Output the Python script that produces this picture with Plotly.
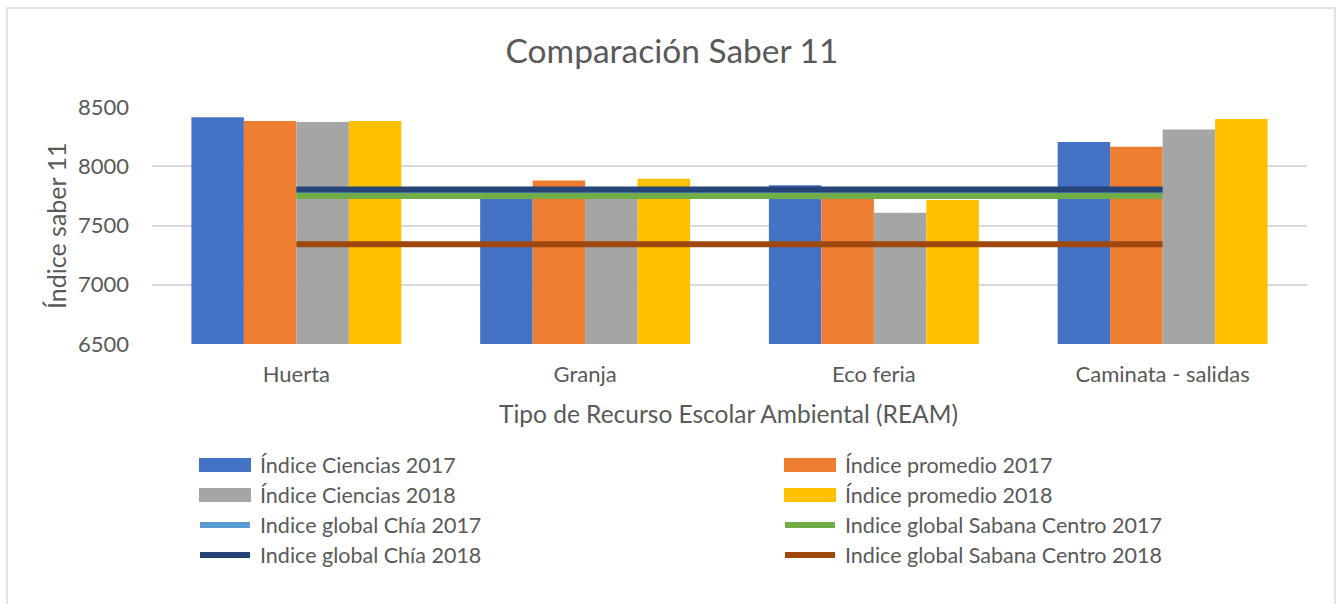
import plotly.graph_objects as go

categories = ["Huerta", "Granja", "Eco feria", "Caminata - salidas"]

bar_names = ["Índice Ciencias 2017", "Índice promedio 2017", "Índice Ciencias 2018", "Índice promedio 2018"]
ciencias_2017 = [8413, 7780, 7840, 8204]
promedio_2017 = [8382, 7880, 7770, 8165]
ciencias_2018 = [8373, 7780, 7607, 8311]
promedio_2018 = [8382, 7895, 7715, 8399]

line_names = ["Indice global Chía 2017", "Indice global Sabana Centro 2017",
              "Indice global Chía 2018", "Indice global Sabana Centro 2018"]
chia_2017 = [7800, 7800, 7800, 7800]
sabana_2017 = [7748, 7748, 7748, 7748]
chia_2018 = [7804, 7804, 7804, 7804]
sabana_2018 = [7342, 7342, 7342, 7342]

y_ticks = [6500, 7000, 7500, 8000, 8500]

bar_colors = ["#4472C4", "#ED7D31", "#A5A5A5", "#FFC000"]
line_colors = ["#5B9BD5", "#70AD47", "#264478", "#9E480E"]

W, H = 1344, 604
L, R, T, B = 152, 37, 107, 260
PW, PH = W - L - R, H - T - B

def px(x):
    return (x - L) / PW

def py(y):
    return (H - B - y) / PH

FONT = "Lato, 'Open Sans', sans-serif"
TXT = "#595959"

fig = go.Figure()
for name, vals, col in zip(bar_names, [ciencias_2017, promedio_2017, ciencias_2018, promedio_2018], bar_colors):
    fig.add_trace(go.Bar(x=categories, y=vals, name=name, marker=dict(color=col, line=dict(width=0)),
                         showlegend=False))
for name, vals, col in zip(line_names, [chia_2017, sabana_2017, chia_2018, sabana_2018], line_colors):
    fig.add_trace(go.Scatter(x=categories, y=vals, name=name, mode="lines",
                             line=dict(color=col, width=6), showlegend=False))

shapes = []
annotations = []
# outer border
shapes.append(dict(type="rect", xref="paper", yref="paper", x0=px(7), x1=px(1335), y0=py(8), y1=py(640),
                   line=dict(color="#D9D9D9", width=1.5), fillcolor="rgba(0,0,0,0)", layer="below"))

# custom legend
rows = [465, 495, 525, 555]
cols = [(199, 251, 258), (784, 836, 843)]
entries = [(bar_names[0], bar_colors[0], "bar"), (bar_names[1], bar_colors[1], "bar"),
           (bar_names[2], bar_colors[2], "bar"), (bar_names[3], bar_colors[3], "bar"),
           (line_names[0], line_colors[0], "line"), (line_names[1], line_colors[1], "line"),
           (line_names[2], line_colors[2], "line"), (line_names[3], line_colors[3], "line")]
for i, (name, col, kind) in enumerate(entries):
    r, c = divmod(i, 2)
    yc = rows[r]
    x0, x1, xt = cols[c]
    if kind == "bar":
        shapes.append(dict(type="rect", xref="paper", yref="paper", x0=px(x0), x1=px(x1),
                           y0=py(yc - 7), y1=py(yc + 7), fillcolor=col, line=dict(width=0)))
    else:
        shapes.append(dict(type="line", xref="paper", yref="paper", x0=px(x0 + 1), x1=px(x1 - 1),
                           y0=py(yc), y1=py(yc), line=dict(color=col, width=6)))
    annotations.append(dict(text=name, xref="paper", yref="paper", x=px(xt), y=py(yc),
                            xanchor="left", yanchor="middle", showarrow=False,
                            font=dict(family=FONT, size=21.5, color=TXT)))

annotations.append(dict(text="Tipo de Recurso Escolar Ambiental (REAM)", xref="paper", yref="paper",
                        x=px(728), y=py(413), xanchor="center", yanchor="middle", showarrow=False,
                        font=dict(family=FONT, size=24.5, color=TXT)))
annotations.append(dict(text="Índice saber 11", xref="paper", yref="paper", textangle=-90,
                        x=px(56), y=py(226), xanchor="center", yanchor="middle", showarrow=False,
                        font=dict(family=FONT, size=25, color=TXT)))

fig.update_layout(
    width=W, height=H,
    margin=dict(l=L, r=R, t=T, b=B),
    paper_bgcolor="white", plot_bgcolor="white",
    barmode="group", bargap=0.273, bargroupgap=0,
    title=dict(text="Comparación Saber 11", x=px(672), xref="paper", xanchor="center",
               y=1 - 51 / H, yref="container", yanchor="middle",
               font=dict(family=FONT, size=33.5, color=TXT)),
    font=dict(family=FONT, color=TXT),
    shapes=shapes, annotations=annotations,
    xaxis=dict(showgrid=False, showline=False, ticks="", tickfont=dict(size=22, color=TXT),
               ticklabelstandoff=15, zeroline=False),
    yaxis=dict(range=[6500, 8500], tickvals=y_ticks, showgrid=True, gridcolor="#D9D9D9", gridwidth=1.5,
               zeroline=False, showline=False, ticks="", tickfont=dict(size=22, color=TXT),
               ticklabelstandoff=22),
)

fig.write_html("out.html", config={"displayModeBar": False},
               post_script="document.body.style.margin='0px';")
